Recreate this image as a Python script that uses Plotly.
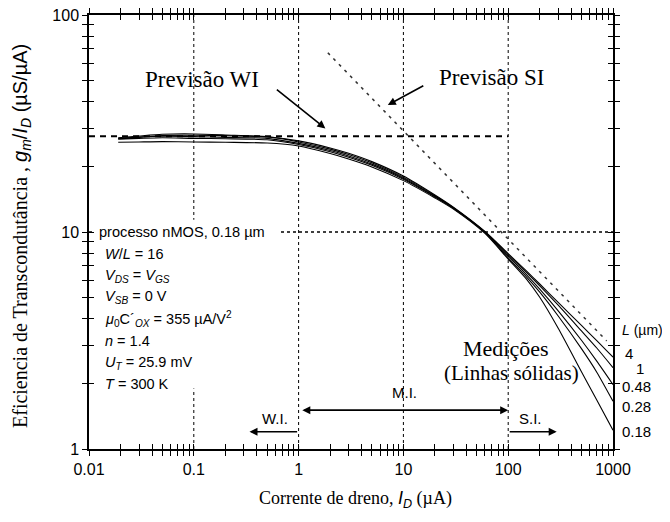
import numpy as np
import plotly.graph_objects as go

# ---------------- data ----------------
ID_UA = [0.019, 0.03, 0.05, 0.1, 0.2, 0.5, 1, 2, 3, 5, 10, 20, 30, 60, 100, 150, 200, 300, 500, 700, 1000]
GM_L4    = [27.0, 27.4, 27.8, 27.9, 27.8, 27.4, 26.3, 24.4, 23.05, 21.1, 18.1, 14.8, 13.0, 10.05, 7.95, 6.6, 5.76, 4.74, 3.71, 3.16, 2.65]
GM_L1    = [27.2, 27.7, 28.2, 28.3, 28.0, 27.5, 26.0, 24.1, 22.75, 20.85, 17.9, 14.7, 12.95, 10.0, 7.85, 6.5, 5.65, 4.6, 3.5, 2.92, 2.37]
GM_L048  = [26.9, 27.3, 27.6, 27.5, 27.3, 27.0, 25.6, 23.75, 22.4, 20.55, 17.7, 14.6, 12.9, 9.97, 7.75, 6.35, 5.45, 4.33, 3.17, 2.54, 1.98]
GM_L028  = [26.8, 27.0, 27.2, 27.0, 26.9, 26.6, 25.3, 23.45, 22.1, 20.3, 17.5, 14.5, 12.85, 9.93, 7.6, 6.2, 5.28, 4.1, 2.9, 2.26, 1.66]
GM_L018  = [25.9, 26.0, 26.1, 26.0, 25.9, 25.7, 24.9, 23.0, 21.7, 19.95, 17.25, 14.35, 12.75, 9.85, 7.5, 6.05, 5.0, 3.6, 2.27, 1.68, 1.22]
CURVES = [GM_L4, GM_L1, GM_L048, GM_L028, GM_L018]
L_LABELS = ["4", "1", "0.48", "0.28", "0.18"]

WI_X = [0.01, 100]
WI_Y = [27.6, 27.6]
SI_X = [1.9, 870]
SI_Y = [67, 3.15]

GRID_X = [0.1, 1, 10, 100]
GRID_Y = [10]

X_RANGE = [0.01, 1000]
Y_RANGE = [1, 100]
X_TICK_LABELS = ["0.01", "0.1", "1", "10", "100", "1000"]
Y_TICK_LABELS = ["1", "10", "100"]

# ---------------- styling ----------------
SERIF = "Liberation Serif"
SANS = "Liberation Sans"
OFF = 8                      # default page (body) margin
W, H = 670 - OFF, 522 - OFF
ML, MT = 89 - OFF, 15 - OFF
MR, MB = 57, 73
PW, PH = W - ML - MR, H - MT - MB


def paper(px, py):
    """convert a position measured on the screenshot to paper coordinates"""
    return (px - OFF - ML) / PW, (MT + PH - (py - OFF)) / PH


def log_ticks(lo, hi):
    vals = []
    d = lo
    while d < hi * 0.999:
        for m in range(1, 10):
            vals.append(round(m * d, 6))
        d *= 10
    vals.append(hi)
    return vals


xt = log_ticks(X_RANGE[0], X_RANGE[1])
yt = log_ticks(Y_RANGE[0], Y_RANGE[1])
xmap = {float(s): s for s in X_TICK_LABELS}
ymap = {float(s): s for s in Y_TICK_LABELS}
xlab = [xmap.get(v, "") for v in xt]
ylab = [ymap.get(v, "") for v in yt]

fig = go.Figure()

# grid lines
for gx in GRID_X:
    fig.add_trace(go.Scatter(x=[gx, gx], y=Y_RANGE, mode="lines",
                             line=dict(color="black", width=1, dash="3px,3px"),
                             hoverinfo="skip", showlegend=False))
for gy in GRID_Y:
    fig.add_trace(go.Scatter(x=X_RANGE, y=[gy, gy], mode="lines",
                             line=dict(color="black", width=1.6, dash="dot"),
                             hoverinfo="skip", showlegend=False))

# white background of the parameter box
fig.add_trace(go.Scatter(x=[0.0108, 0.64, 0.64, 0.0108, 0.0108],
                         y=[1.9, 1.9, 11.4, 11.4, 1.9], mode="lines",
                         fill="toself", fillcolor="white", line=dict(width=0),
                         hoverinfo="skip", showlegend=False))

# WI / SI predictions
fig.add_trace(go.Scatter(x=WI_X, y=WI_Y, mode="lines",
                         line=dict(color="black", width=2, dash="6px,5px"),
                         showlegend=False))
fig.add_trace(go.Scatter(x=SI_X, y=SI_Y, mode="lines",
                         line=dict(color="#333333", width=1.5, dash="3px,5px"),
                         showlegend=False))

# measured curves
for ys, lab in zip(CURVES, L_LABELS):
    fig.add_trace(go.Scatter(x=ID_UA, y=ys, mode="lines", name=lab,
                             line=dict(color="black", width=1.1, shape="spline", smoothing=0.7),
                             showlegend=False))

# invisible traces for the secondary (inside-tick) axes
fig.add_trace(go.Scatter(x=[X_RANGE[0]], y=[Y_RANGE[0]], xaxis="x2", yaxis="y",
                         mode="markers", marker=dict(opacity=0), hoverinfo="skip",
                         showlegend=False))
fig.add_trace(go.Scatter(x=[X_RANGE[0]], y=[Y_RANGE[0]], xaxis="x", yaxis="y2",
                         mode="markers", marker=dict(opacity=0), hoverinfo="skip",
                         showlegend=False))

axis_common = dict(type="log", showgrid=False, zeroline=False,
                   tickcolor="black", tickwidth=1, ticklen=5)
xr = [np.log10(X_RANGE[0]), np.log10(X_RANGE[1])]
yr = [np.log10(Y_RANGE[0]), np.log10(Y_RANGE[1])]
fig.update_layout(
    width=W, height=H,
    margin=dict(l=ML, r=MR, t=MT, b=MB, autoexpand=False),
    paper_bgcolor="white", plot_bgcolor="white",
    font=dict(family=SANS, size=16, color="black"),
    xaxis=dict(range=xr, tickmode="array", tickvals=xt, ticktext=xlab, ticks="outside",
               showline=True, linecolor="black", linewidth=1.5, mirror="ticks",
               ticklabeloverflow="allow",
               tickfont=dict(family=SANS, size=16), **axis_common),
    yaxis=dict(range=yr, tickmode="array", tickvals=yt, ticktext=ylab, ticks="outside",
               showline=True, linecolor="black", linewidth=1.5, mirror="ticks",
               ticklabeloverflow="allow",
               tickfont=dict(family=SANS, size=16), **axis_common),
    xaxis2=dict(range=xr, overlaying="x", anchor="y", side="bottom",
                tickmode="array", tickvals=xt, ticks="inside",
                showticklabels=False, showline=True, linecolor="black", linewidth=1.5,
                mirror="ticks", **axis_common),
    yaxis2=dict(range=yr, overlaying="y", anchor="x", side="left",
                tickmode="array", tickvals=yt, ticks="inside",
                showticklabels=False, showline=True, linecolor="black", linewidth=1.5,
                mirror="ticks", **axis_common),
)

ann = []


def text_at(px, py, text, family=SERIF, size=18, xanchor="center"):
    x, y = paper(px, py)
    ann.append(dict(x=x, y=y, xref="paper", yref="paper", text=text, showarrow=False,
                    xanchor=xanchor, yanchor="middle",
                    font=dict(family=family, size=size, color="black")))


# axis titles
x, y = paper(22, 236)
ann.append(dict(x=x, y=y, xref="paper", yref="paper", textangle=-90, showarrow=False,
                xanchor="center", yanchor="middle",
                text="Eficiencia de Transcondutância , "
                     "<span style='font-family:Liberation Sans'><i>g<sub>m</sub></i>/<i>I<sub>D</sub></i> (µS/µA)</span>",
                font=dict(family=SERIF, size=20, color="black")))
text_at(355, 499, "Corrente de dreno, <span style='font-family:Liberation Sans'><i>I<sub>D</sub></i></span> (µA)", size=18)

# prediction labels and arrows
text_at(202, 80, "Previsão WI", size=23)
text_at(491, 77, "Previsão SI", size=23)
ann.append(dict(x=np.log10(1.8), y=np.log10(30.0), xref="x", yref="y", ax=-50, ay=-40,
                text="", showarrow=True, arrowhead=2, arrowsize=1, arrowwidth=1.6, arrowcolor="black"))
ann.append(dict(x=np.log10(7.1), y=np.log10(38.5), xref="x", yref="y", ax=37, ay=-20,
                text="", showarrow=True, arrowhead=2, arrowsize=1, arrowwidth=1.6, arrowcolor="black"))

# measurement label
text_at(506, 348, "Medições", size=22)
text_at(511, 373, "(Linhas sólidas)", size=21)

# L labels
text_at(620, 330, "<i>L</i> (µm)", family=SANS, size=14, xanchor="left")
for lab, (lx, ly) in zip(L_LABELS, [(623, 353), (634, 368), (620, 386), (620, 406), (620, 431)]):
    text_at(lx, ly, lab, family=SANS, size=15, xanchor="left")

# parameter box
text_at(97, 232, "processo nMOS, 0.18 µm", family=SANS, size=14.6, xanchor="left")
box_lines = [
    "<i>W</i>/<i>L</i> = 16",
    "<i>V<sub>DS</sub></i> = <i>V<sub>GS</sub></i>",
    "<i>V<sub>SB</sub></i> = 0 V",
    "<i>μ</i><sub>0</sub>C´<sub><i>OX</i></sub> = 355 µA/V<sup>2</sup>",
    "<i>n</i> = 1.4",
    "<i>U<sub>T</sub></i> = 25.9 mV",
    "<i>T</i> = 300 K",
]
for i, t in enumerate(box_lines):
    text_at(103, 254 + i * 21.7, t, family=SANS, size=14.5, xanchor="left")

# region arrows
ann.append(dict(x=np.log10(100), y=np.log10(1.51), ax=np.log10(1.05), ay=np.log10(1.51),
                xref="x", yref="y", axref="x", ayref="y", text="", showarrow=True,
                arrowhead=2, startarrowhead=2, arrowside="end+start", arrowsize=1,
                arrowwidth=1.6, arrowcolor="black"))
ann.append(dict(x=np.log10(0.34), y=np.log10(1.2), ax=np.log10(1.0), ay=np.log10(1.2),
                xref="x", yref="y", axref="x", ayref="y", text="", showarrow=True,
                arrowhead=2, arrowsize=1, arrowwidth=1.6, arrowcolor="black"))
ann.append(dict(x=np.log10(290), y=np.log10(1.2), ax=np.log10(100), ay=np.log10(1.2),
                xref="x", yref="y", axref="x", ayref="y", text="", showarrow=True,
                arrowhead=2, arrowsize=1, arrowwidth=1.6, arrowcolor="black"))
text_at(404, 392, "M.I.", family=SANS, size=15)
text_at(275, 418, "W.I.", family=SANS, size=15)
text_at(530, 418, "S.I.", family=SANS, size=15)

fig.update_layout(annotations=ann)
fig.write_html("out.html")
